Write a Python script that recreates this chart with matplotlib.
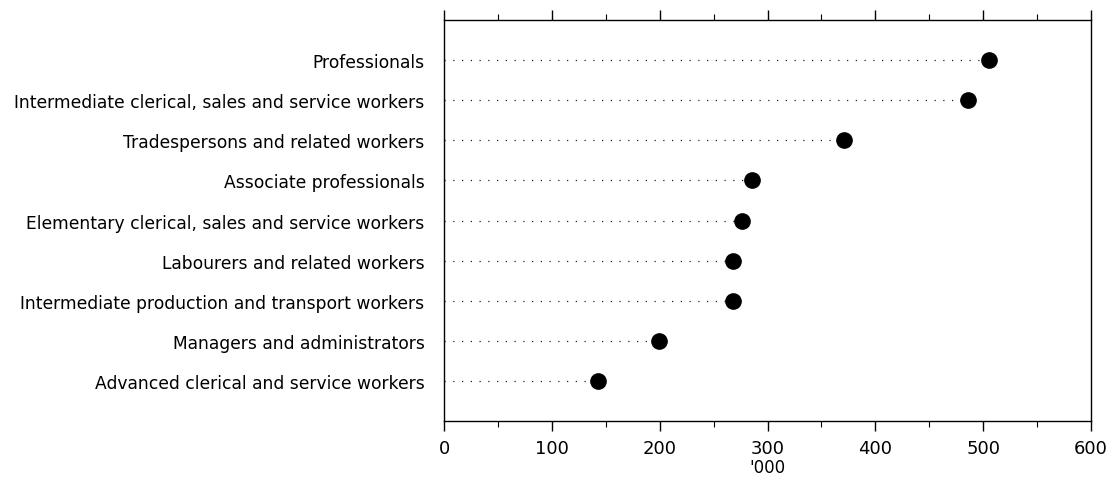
import matplotlib.pyplot as plt
from matplotlib.ticker import MultipleLocator

# occupations, top to bottom
occupations = [
    'Professionals',
    'Intermediate clerical, sales and service workers',
    'Tradespersons and related workers',
    'Associate professionals',
    'Elementary clerical, sales and service workers',
    'Labourers and related workers',
    'Intermediate production and transport workers',
    'Managers and administrators',
    'Advanced clerical and service workers',
]
# thousands of people
counts = [505, 486, 371, 286, 276, 268, 268, 199, 143]

plt.rcParams['font.family'] = ['DejaVu Sans']

fig = plt.figure(figsize=(11.14, 4.81), dpi=100)
ax = fig.add_axes([0.3986, 0.1227, 0.5808, 0.8336])

ypos = list(range(len(occupations)))[::-1]
for y, v in zip(ypos, counts):
    ax.plot([0, v], [y, y], color='#222222', lw=0.9, linestyle=(0, (1, 6)))
ax.plot(counts, ypos, 'o', color='black', markersize=11, zorder=3)

ax.set_xlim(0, 600)
ax.set_ylim(-1, len(occupations))
ax.set_yticks(ypos)
ax.set_yticklabels(occupations, fontsize=12.3)
ax.tick_params(axis='y', length=0, pad=14)

ax.xaxis.set_major_locator(MultipleLocator(100))
ax.xaxis.set_minor_locator(MultipleLocator(50))
ax.tick_params(axis='x', which='both', direction='out', top=True, bottom=True,
               labeltop=False, labelsize=13, color='black', pad=6)
ax.tick_params(axis='x', which='major', length=7, width=1)
ax.tick_params(axis='x', which='minor', length=4, width=0.8)
ax.set_xlabel("'000", fontsize=12, labelpad=1)

for s in ax.spines.values():
    s.set_linewidth(1)
    s.set_color('black')

fig.savefig('out.png', dpi=100)
